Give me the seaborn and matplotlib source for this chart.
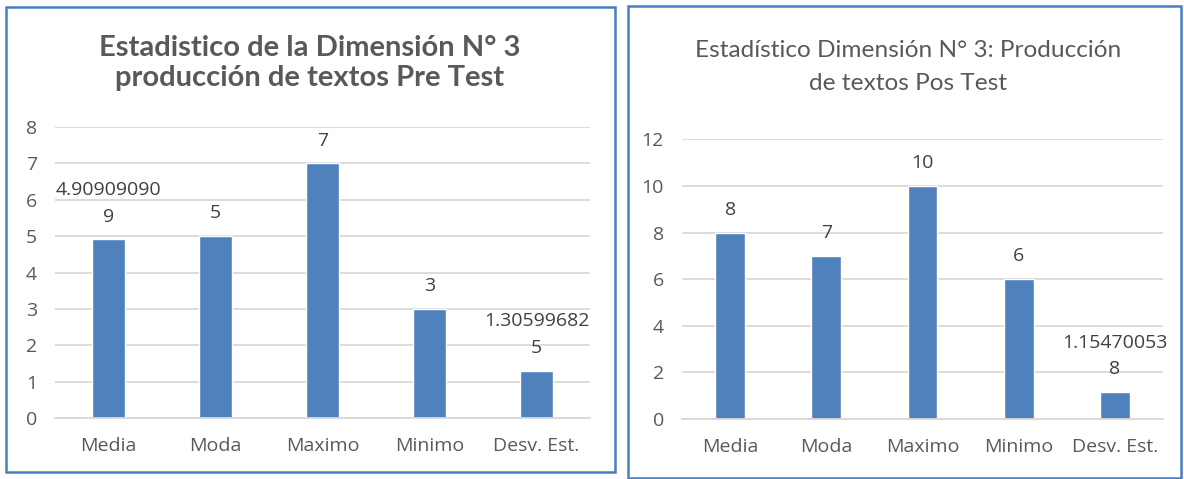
import matplotlib
matplotlib.use("Agg")
import pandas as pd
import seaborn as sns
from matplotlib import pyplot as plt
from matplotlib.patches import Rectangle

# Datos
categorias = ["Media", "Moda", "Maximo", "Minimo", "Desv. Est."]
pre_test = [4.909090909, 5, 7, 3, 1.305996825]
pos_test = [8, 7, 10, 6, 1.154700538]
etiquetas_pre = ["4.90909090\n9", "5", "7", "3", "1.30599682\n5"]
etiquetas_pos = ["8", "7", "10", "6", "1.15470053\n8"]

titulo_pre = "Estadistico de la Dimensión N° 3\nproducción de textos Pre Test"
titulo_pos = "Estadístico Dimensión N° 3: Producción\nde textos Pos Test"

AZUL = "#4F81BD"
GRIS = "#595959"
BORDE = "#4A7EC4"

sns.set_theme(style="white")
plt.rcParams["font.family"] = ["Open Sans", "DejaVu Sans"]
fuente_titulo = ["Lato", "DejaVu Sans"]

fig = plt.figure(figsize=(11.84, 4.79), dpi=100)
ax1 = fig.add_axes([0.0465, 0.1273, 0.4519, 0.6075])
ax2 = fig.add_axes([0.5760, 0.1253, 0.4063, 0.5839])


def dibujar(ax, valores, etiquetas, ymax, paso):
    df = pd.DataFrame({"cat": categorias, "val": valores})
    sns.barplot(data=df, x="cat", y="val", color=AZUL, saturation=1,
                width=0.31, ax=ax)
    ax.set_ylim(0, ymax)
    ax.set_yticks(range(0, ymax + 1, paso))
    ax.yaxis.grid(True, color="#D9D9D9", lw=1.3)
    ax.set_axisbelow(True)
    for s in ["top", "right", "left"]:
        ax.spines[s].set_visible(False)
    ax.spines["bottom"].set_color("#D9D9D9")
    ax.spines["bottom"].set_linewidth(1.3)
    ax.set_xlabel("")
    ax.set_ylabel("")
    ax.tick_params(length=0, colors=GRIS, labelsize=14)
    ax.tick_params(axis="y", pad=13)
    ax.tick_params(axis="x", pad=14)
    for p, t in zip(ax.patches, etiquetas):
        ax.annotate(t, (p.get_x() + p.get_width() / 2, p.get_height()),
                    xytext=(0, 10), textcoords="offset points",
                    ha="center", va="bottom", fontsize=14, color="#404040",
                    linespacing=1.6)


dibujar(ax1, pre_test, etiquetas_pre, 8, 1)
dibujar(ax2, pos_test, etiquetas_pos, 12, 2)

# Titulos
fig.text(310 / 1184, 1 - 63 / 479, titulo_pre, ha="center", va="center",
         fontsize=21, fontweight="bold", family=fuente_titulo, color=GRIS,
         linespacing=1.15)
fig.text(908 / 1184, 1 - 67 / 479, titulo_pos, ha="center", va="center",
         fontsize=17.6, family=fuente_titulo, color=GRIS, linespacing=1.75)

# Marcos de cada grafico
fig.add_artist(Rectangle((6 / 1184, 1 - 472 / 479), 609 / 1184, 465 / 479,
                         transform=fig.transFigure, fill=False,
                         edgecolor=BORDE, lw=1.8))
fig.add_artist(Rectangle((628 / 1184, 1 - 478 / 479), 553 / 1184, 472 / 479,
                         transform=fig.transFigure, fill=False,
                         edgecolor=BORDE, lw=1.8))

fig.savefig("out.png", dpi=100)
